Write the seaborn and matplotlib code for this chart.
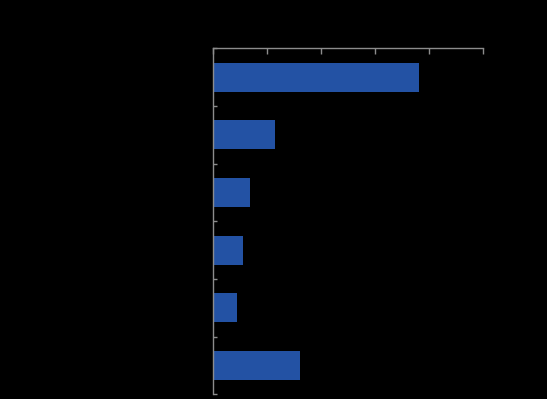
import matplotlib
matplotlib.use("Agg")
import matplotlib.pyplot as plt
import seaborn as sns
import pandas as pd

# Data (axis in units of the top tick spacing)
categories = ["Category 1", "Category 2", "Category 3", "Category 4", "Category 5", "Category 6"]
values = [38.1, 11.4, 6.8, 5.5, 4.4, 16.1]
x_ticks = [0, 10, 20, 30, 40, 50]

df = pd.DataFrame({"category": categories, "value": values})

sns.set_theme(style="white")
plt.rcParams['font.family'] = ['DejaVu Sans']

fig = plt.figure(figsize=(5.47, 3.99), dpi=100, facecolor="black")
ax = fig.add_axes([213.3 / 547, (399 - 394.3) / 399, 270 / 547, (394.3 - 48.3) / 399])
ax.set_facecolor("black")

sns.barplot(data=df, x="value", y="category", orient="h", color="#2352A4",
            saturation=1, width=0.5, linewidth=0, edgecolor="none", ax=ax)

ax.set_xlim(x_ticks[0], x_ticks[-1])
ax.set_ylim(len(categories) - 0.5, -0.5)
ax.set_xlabel("")
ax.set_ylabel("")

grey = "#8c8c8c"
for side in ["right", "bottom"]:
    ax.spines[side].set_visible(False)
for side in ["top", "left"]:
    ax.spines[side].set_visible(True)
    ax.spines[side].set_color(grey)
    ax.spines[side].set_linewidth(1.0)

ax.xaxis.tick_top()
ax.set_xticks(x_ticks)
ax.set_xticklabels([""] * len(x_ticks))
ax.tick_params(axis="x", which="major", direction="in", length=4, width=1.0,
               color=grey, top=True, bottom=False)

bounds = [i + 0.5 for i in range(-1, len(categories))]
ax.set_yticks(bounds)
ax.set_yticklabels([""] * len(bounds))
ax.tick_params(axis="y", which="major", direction="in", length=3.2, width=1.0,
               color=grey, left=True, right=False)

fig.savefig("out.png", dpi=100, facecolor="black")
